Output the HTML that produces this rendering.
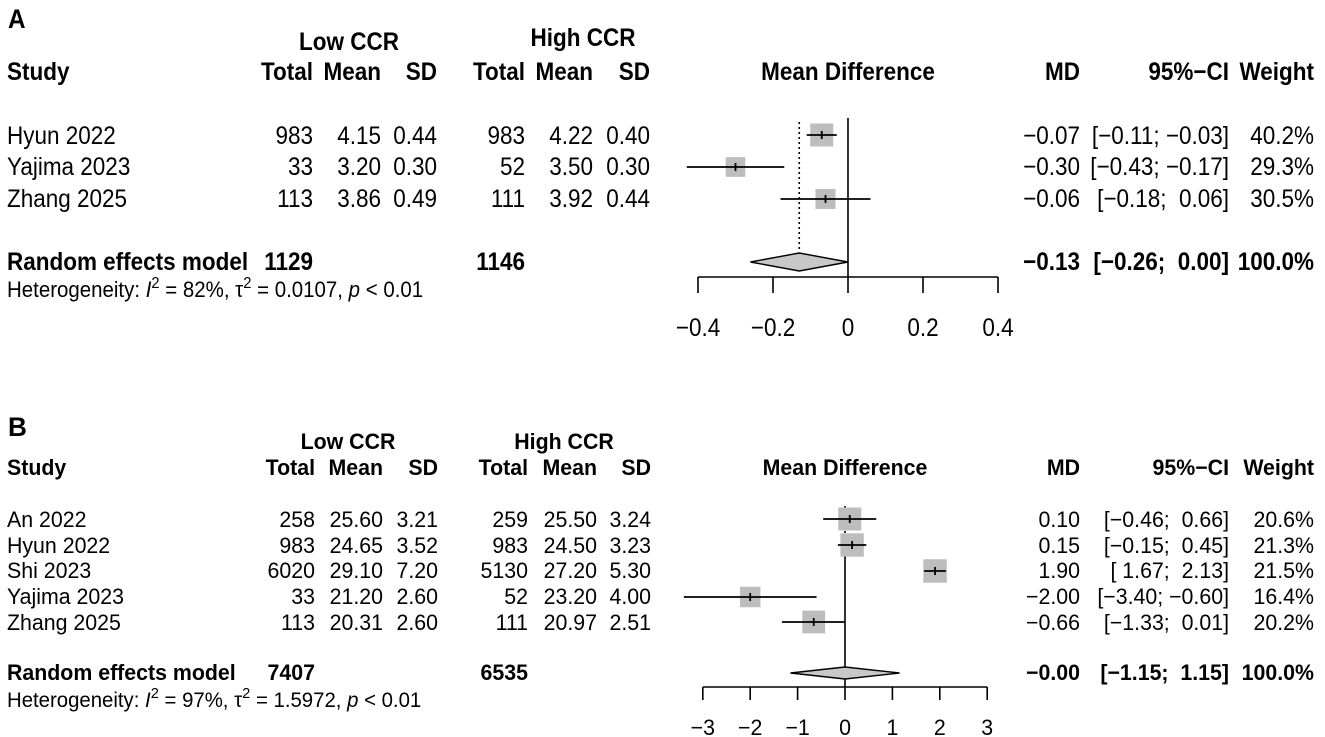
<!DOCTYPE html>
<html><head><meta charset="utf-8">
<style>
html,body{margin:0;padding:0;background:#fff;}
svg{display:block;font-family:"Liberation Sans",Arial,sans-serif;}
text{fill:#000;white-space:pre;}
</style></head>
<body>
<svg id="chart" width="1325" height="737" viewBox="0 0 1325 737" xmlns="http://www.w3.org/2000/svg" xml:space="preserve">
<g id="panelA"></g>
<g id="panelB"></g>
</svg>
<script>
// ---- Panel A data ----
const aStudies = ["Hyun 2022","Yajima 2023","Zhang 2025"];
const aLowTotal = ["983","33","113"];
const aLowMean = ["4.15","3.20","3.86"];
const aLowSD = ["0.44","0.30","0.49"];
const aHighTotal = ["983","52","111"];
const aHighMean = ["4.22","3.50","3.92"];
const aHighSD = ["0.40","0.30","0.44"];
const aMD = [-0.07,-0.30,-0.06];
const aLo = [-0.11,-0.43,-0.18];
const aHi = [-0.03,-0.17,0.06];
const aWeight = [40.2,29.3,30.5];
const aPooled = [-0.13,-0.26,0.00];
const aTicks = [-0.4,-0.2,0,0.2,0.4];
const aTickLabels = ["\u22120.4","\u22120.2","0","0.2","0.4"];
// ---- Panel B data ----
const bStudies = ["An 2022","Hyun 2022","Shi 2023","Yajima 2023","Zhang 2025"];
const bLowTotal = ["258","983","6020","33","113"];
const bLowMean = ["25.60","24.65","29.10","21.20","20.31"];
const bLowSD = ["3.21","3.52","7.20","2.60","2.60"];
const bHighTotal = ["259","983","5130","52","111"];
const bHighMean = ["25.50","24.50","27.20","23.20","20.97"];
const bHighSD = ["3.24","3.23","5.30","4.00","2.51"];
const bMD = [0.10,0.15,1.90,-2.00,-0.66];
const bLo = [-0.46,-0.15,1.67,-3.40,-1.33];
const bHi = [0.66,0.45,2.13,-0.60,0.01];
const bWeight = [20.6,21.3,21.5,16.4,20.2];
const bPooled = [-0.00,-1.15,1.15];
const bTicks = [-3,-2,-1,0,1,2,3];
const bTickLabels = ["\u22123","\u22122","\u22121","0","1","2","3"];

const NS="http://www.w3.org/2000/svg";
function mk(parent,tag,attrs){const e=document.createElementNS(NS,tag);for(const k in attrs)e.setAttribute(k,attrs[k]);parent.appendChild(e);return e;}
let SX=1;
function txt(parent,x,y,s,anchor,size,bold,name){
  const t=mk(parent,"text",{x:0,y:0,"text-anchor":anchor,"font-size":size,transform:`translate(${x},${y}) scale(${SX},1)`});
  if(bold)t.setAttribute("font-weight","bold");
  t.textContent=s;
  
  
  return t;
}
function fmt(v){const s=Math.abs(v).toFixed(2);return ((v<0||Object.is(v,-0))?"\u2212":"")+s;}
function ciStr(l,h){
  const a=(l<0?"[":"[ ")+fmt(l)+";";
  const b=(h<0?" ":"  ")+fmt(h)+"]";
  return a+b;
}

function panel(g,cfg){
  SX=cfg.sx;
  const fs=cfg.fs;
  txt(g,8,cfg.letterY,cfg.letter,"start",cfg.lfs,true,"panel-label");
  txt(g,cfg.lowC,cfg.grpY,"Low CCR","middle",fs,true,"low-ccr-group-header");
  txt(g,cfg.highC,cfg.grpY2,"High CCR","middle",fs,true,"high-ccr-group-header");
  const H=cfg.headY;
  const cols=cfg.cols;
  txt(g,7,H,"Study","start",fs,true,"study-column-header");
  txt(g,cols[0],H,"Total","end",fs,true,"low-total-header");
  txt(g,cols[1],H,"Mean","end",fs,true,"low-mean-header");
  txt(g,cols[2],H,"SD","end",fs,true,"low-sd-header");
  txt(g,cols[3],H,"Total","end",fs,true,"high-total-header");
  txt(g,cols[4],H,"Mean","end",fs,true,"high-mean-header");
  txt(g,cols[5],H,"SD","end",fs,true,"high-sd-header");
  txt(g,cfg.x0px,H,"Mean Difference","middle",fs,true,"mean-difference-header");
  txt(g,1080,H,"MD","end",fs,true,"md-header");
  txt(g,1229,H,"95%\u2212CI","end",fs,true,"ci-header");
  txt(g,1314,H,"Weight","end",fs,true,"weight-header");
  const xs=v=>cfg.x0px+v*cfg.scale;
  const d=cfg.data;
  mk(g,"line",{x1:xs(0),x2:xs(0),y1:cfg.zeroTop,y2:cfg.axisY,stroke:"#000","stroke-width":1.6});
  const dl=mk(g,"line",{x1:xs(d.pooled[0]),x2:xs(d.pooled[0]),y1:cfg.dotTop,y2:cfg.dotBot,stroke:"#000","stroke-width":1.6,"stroke-dasharray":"2,3"});
  
  
  d.studies.forEach((s,i)=>{
    const y=cfg.textY[i];
    txt(g,7,y,s,"start",fs,false,"study-name");
    txt(g,cols[0],y,d.lt[i],"end",fs,false,"low-total");
    txt(g,cols[1],y,d.lm[i],"end",fs,false,"low-mean");
    txt(g,cols[2],y,d.ls[i],"end",fs,false,"low-sd");
    txt(g,cols[3],y,d.ht[i],"end",fs,false,"high-total");
    txt(g,cols[4],y,d.hm[i],"end",fs,false,"high-mean");
    txt(g,cols[5],y,d.hs[i],"end",fs,false,"high-sd");
    txt(g,1080,y,fmt(d.md[i]),"end",fs,false,"md-value");
    txt(g,1229,y,ciStr(d.lo[i],d.hi[i]),"end",fs,false,"ci-value");
    txt(g,1314,y,d.w[i].toFixed(1)+"%","end",fs,false,"weight-value");
    const cy=cfg.markY[i];
    const sz=cfg.k*Math.sqrt(d.w[i]);
    const sq=mk(g,"rect",{x:xs(d.md[i])-sz/2,y:cy-sz/2,width:sz,height:sz,fill:"#bdbdbd"});
    
    
    const ln=mk(g,"line",{x1:xs(d.lo[i]),x2:xs(d.hi[i]),y1:cy,y2:cy,stroke:"#000","stroke-width":1.8});
    
    
    const tk=mk(g,"line",{x1:xs(d.md[i]),x2:xs(d.md[i]),y1:cy-4,y2:cy+4,stroke:"#000","stroke-width":1.8});
    
    
  });
  const ry=cfg.randY;
  txt(g,7,ry,"Random effects model","start",fs,true,"random-effects-label");
  txt(g,cols[0],ry,d.totL,"end",fs,true,"low-total-pooled");
  txt(g,cols[3],ry,d.totH,"end",fs,true,"high-total-pooled");
  txt(g,1080,ry,fmt(d.pooled[0]),"end",fs,true,"pooled-md");
  txt(g,1229,ry,ciStr(d.pooled[1],d.pooled[2]),"end",fs,true,"pooled-ci");
  txt(g,1314,ry,"100.0%","end",fs,true,"pooled-weight");
  const dy=cfg.diaY,h=cfg.diaH;
  const dm=mk(g,"polygon",{points:`${xs(d.pooled[1])},${dy} ${xs(d.pooled[0])},${dy-h} ${xs(d.pooled[2])},${dy} ${xs(d.pooled[0])},${dy+h}`,fill:"#c8c8c8",stroke:"#000","stroke-width":1.4});
  
  
  const hf=cfg.hfs;
  const ht=mk(g,"text",{x:0,y:0,"font-size":hf,transform:`translate(7,${cfg.hetY}) scale(${cfg.hsx},1)`});
  
  
  ht.innerHTML=`Heterogeneity: <tspan font-style="italic">I</tspan><tspan dy="-9" font-size="${hf*0.72}">2</tspan><tspan dy="9"> = ${cfg.het[0]}, \u03c4</tspan><tspan dy="-9" font-size="${hf*0.72}">2</tspan><tspan dy="9"> = ${cfg.het[1]}, </tspan><tspan font-style="italic">p</tspan> &lt; 0.01`;
  const ax=mk(g,"g",{});
  
  
  mk(ax,"line",{x1:xs(cfg.ticks[0]),x2:xs(cfg.ticks[cfg.ticks.length-1]),y1:cfg.axisY,y2:cfg.axisY,stroke:"#000","stroke-width":1.6});
  cfg.ticks.forEach((t,i)=>{
    mk(ax,"line",{x1:xs(t),x2:xs(t),y1:cfg.axisY,y2:cfg.axisY+cfg.tickLen,stroke:"#000","stroke-width":1.6});
    txt(ax,xs(t),cfg.tickLabY,cfg.tickLabels[i],"middle",fs,false,"x-tick-label");
  });
}

panel(document.getElementById("panelA"),{
  letter:"A",letterY:28,lfs:27,fs:25,sx:0.9,hfs:22,hsx:0.93,
  lowC:349,highC:583,grpY:50,grpY2:46,headY:80,
  cols:[313,381,437,525,593,650],
  x0px:848,scale:375,
  textY:[144,175,207],markY:[135,167,199],
  randY:270,hetY:297,diaY:262,diaH:9,
  dotTop:122,dotBot:252,zeroTop:118,axisY:277,tickLen:16,tickLabY:336,
  k:3.63,ticks:aTicks,tickLabels:aTickLabels,het:["82%","0.0107"],
  data:{studies:aStudies,lt:aLowTotal,lm:aLowMean,ls:aLowSD,ht:aHighTotal,hm:aHighMean,hs:aHighSD,
    md:aMD,lo:aLo,hi:aHi,w:aWeight,pooled:aPooled,totL:"1129",totH:"1146"}
});
panel(document.getElementById("panelB"),{
  letter:"B",letterY:436,lfs:27,fs:22,sx:0.97,hfs:21,hsx:0.97,
  lowC:348,highC:564,grpY:449,grpY2:449,headY:475,
  cols:[315,383,438,528,597,651],
  x0px:845,scale:47.4,
  textY:[527,553,578,604,630],markY:[519,545,571,597,622],
  randY:680,hetY:707,diaY:673,diaH:6,
  dotTop:506,dotBot:560,zeroTop:540,axisY:687,tickLen:13,tickLabY:735,
  k:5.07,ticks:bTicks,tickLabels:bTickLabels,het:["97%","1.5972"],
  data:{studies:bStudies,lt:bLowTotal,lm:bLowMean,ls:bLowSD,ht:bHighTotal,hm:bHighMean,hs:bHighSD,
    md:bMD,lo:bLo,hi:bHi,w:bWeight,pooled:bPooled,totL:"7407",totH:"6535"}
});
</script>
</body></html>
